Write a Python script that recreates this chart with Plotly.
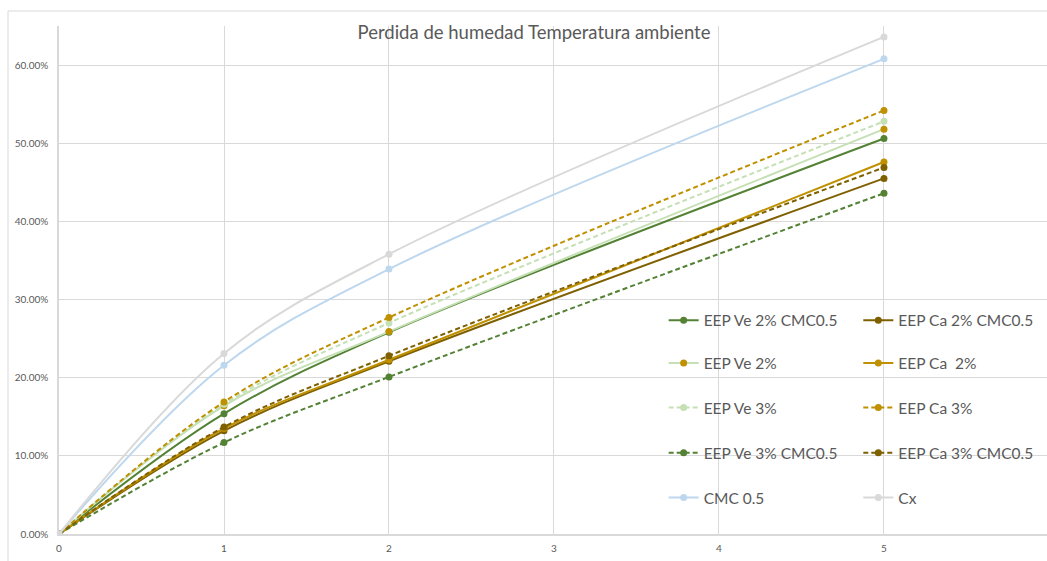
import plotly.graph_objects as go

# Moisture loss (fraction) per day at room temperature
days = [0, 1, 2, 5]

series_names = [
    "EEP Ve 2% CMC0.5", "EEP Ca 2% CMC0.5",
    "EEP Ve 2%", "EEP Ca  2%",
    "EEP Ve 3%", "EEP Ca 3%",
    "EEP Ve 3% CMC0.5", "EEP Ca 3% CMC0.5",
    "CMC 0.5", "Cx",
]

ve_2_cmc = [0.0, 0.154, 0.258, 0.506]
ca_2_cmc = [0.0, 0.132, 0.221, 0.455]
ve_2 = [0.0, 0.164, 0.259, 0.518]
ca_2 = [0.0, 0.135, 0.223, 0.476]
ve_3 = [0.0, 0.166, 0.270, 0.528]
ca_3 = [0.0, 0.169, 0.277, 0.542]
ve_3_cmc = [0.0, 0.117, 0.201, 0.436]
ca_3_cmc = [0.0, 0.137, 0.228, 0.469]
cmc_05 = [0.0, 0.216, 0.339, 0.608]
cx = [0.0, 0.231, 0.358, 0.636]

values = [ve_2_cmc, ca_2_cmc, ve_2, ca_2, ve_3, ca_3, ve_3_cmc, ca_3_cmc, cmc_05, cx]

# (line colour, marker colour, dashed)
styles = [
    ("#548235", "#548235", False),
    ("#7f6000", "#7f6000", False),
    ("#c5e0b4", "#bf9000", False),
    ("#bf9000", "#bf9000", False),
    ("#c5e0b4", "#c5e0b4", True),
    ("#bf9000", "#bf9000", True),
    ("#548235", "#548235", True),
    ("#7f6000", "#7f6000", True),
    ("#bdd7ee", "#bdd7ee", False),
    ("#d9d9d9", "#d9d9d9", False),
]

TEXT = "#595959"
GRID = "#d9d9d9"
FONT = "Lato, Open Sans, sans-serif"
TICK_FONT = dict(family="Liberation Sans Narrow, " + FONT, size=10, color=TEXT)

X_MAX = 5.988

fig = go.Figure()
for i, (name, ys, (lc, mc, dashed)) in enumerate(zip(series_names, values, styles)):
    fig.add_trace(go.Scatter(
        x=days, y=ys, name=name,
        mode="lines+markers",
        line=dict(color=lc, width=2, shape="spline", smoothing=1,
                  dash="5px,3px" if dashed else "solid"),
        marker=dict(color=mc, size=7),
        legend="legend" if i == 0 else f"legend{i + 1}",
    ))

# one single-entry legend per series, laid out in a 2-column grid
col_x = [0.612, 0.809]
row_y = [0.420, 0.336, 0.248, 0.159, 0.071]
legends = {}
for i in range(len(series_names)):
    key = "legend" if i == 0 else f"legend{i + 1}"
    legends[key] = dict(
        x=col_x[i % 2], y=row_y[i // 2],
        xanchor="left", yanchor="middle",
        bgcolor="rgba(0,0,0,0)", borderwidth=0,
        font=dict(family=FONT, size=15.5, color=TEXT),
        itemwidth=30,
    )

fig.update_layout(
    width=1047, height=561,
    margin=dict(l=59, r=0, t=26, b=27),
    paper_bgcolor="white", plot_bgcolor="white",
    showlegend=True,
    title=dict(text="Perdida de humedad Temperatura ambiente",
               x=534 / 1047, xanchor="center", y=1 - 33 / 561, yanchor="middle",
               font=dict(family=FONT, size=18.5, color=TEXT)),
    xaxis=dict(range=[0, X_MAX], tickmode="linear", tick0=0, dtick=1,
               showgrid=True, gridcolor=GRID, gridwidth=1,
               showline=True, linecolor=GRID, linewidth=1.5,
               zeroline=False, ticks="", ticklabelstandoff=4,
               tickfont=TICK_FONT),
    yaxis=dict(range=[0, 0.65], tickmode="linear", tick0=0, dtick=0.1,
               tickformat=".2%",
               showgrid=True, gridcolor=GRID, gridwidth=1,
               showline=True, linecolor=GRID, linewidth=1.5,
               zeroline=False, ticks="", ticklabelstandoff=7,
               tickfont=TICK_FONT),
    **legends,
)

# chart-area frame
fig.add_shape(type="rect", xref="paper", yref="paper",
              x0=(8 - 59) / 988, x1=1.02, y0=-0.07, y1=(534 - 10.5) / 508.5,
              line=dict(color=GRID, width=1), fillcolor="rgba(0,0,0,0)", layer="below")

fig.write_html("out.html")
